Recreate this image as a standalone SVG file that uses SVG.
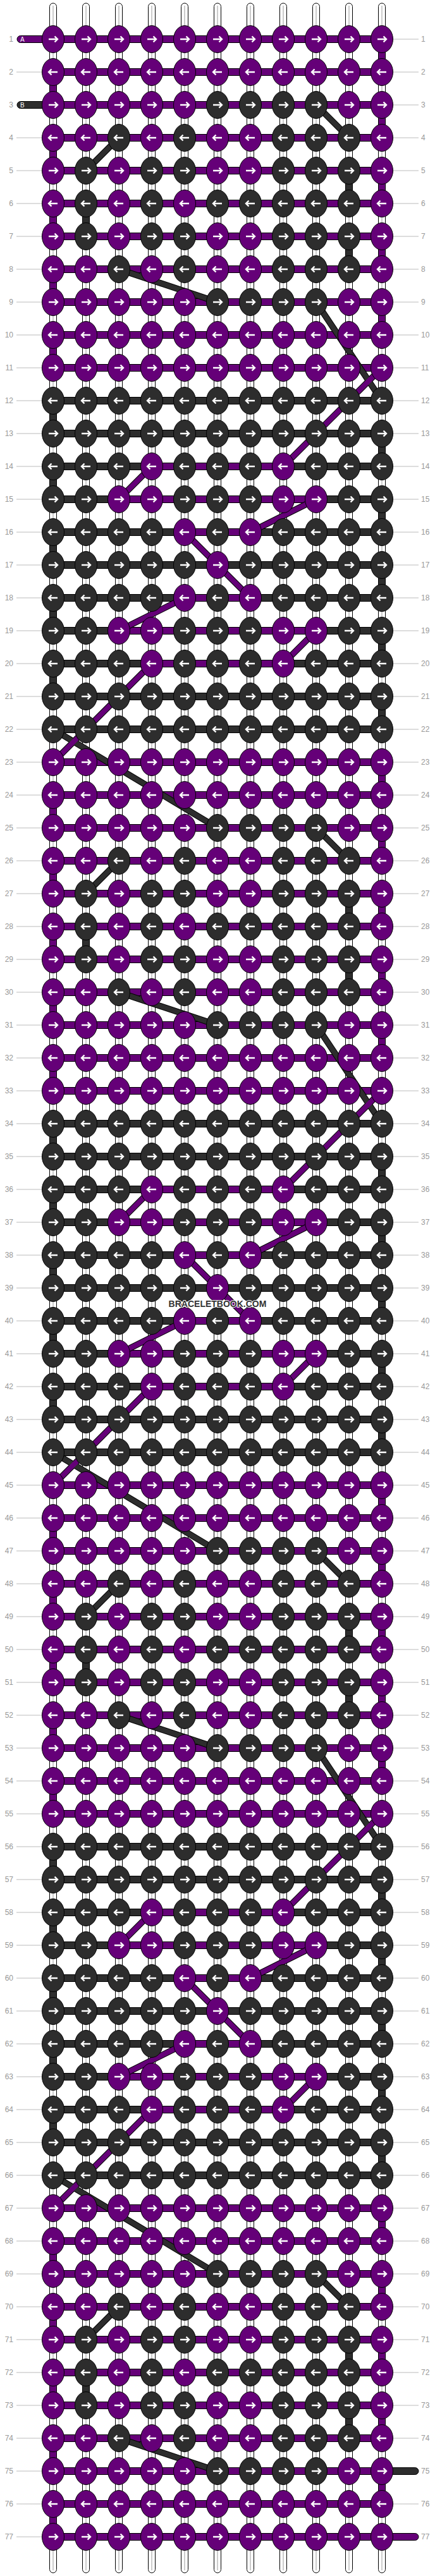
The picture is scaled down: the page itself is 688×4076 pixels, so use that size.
<svg xmlns="http://www.w3.org/2000/svg" width="688" height="4076" viewBox="0 0 688 4076">
<style>
.st{fill:#fff;stroke:#000;stroke-width:1}
.sc{fill:none;stroke:#999;stroke-width:1}
.P{fill:#650078;stroke:#000;stroke-width:1}
.D{fill:#2d2d2d;stroke:#000;stroke-width:1}
.ar{fill:none;stroke:#fff;stroke-width:2.4}
.do{fill:none;stroke:#000;stroke-width:10}
.dp{fill:none;stroke:#650078;stroke-width:8}
.dd{fill:none;stroke:#2d2d2d;stroke-width:8}
.n{font-family:"Liberation Sans",Arial,sans-serif;font-size:12px;fill:#999}
.gl{fill:none;stroke:#bbb;stroke-width:1}
.tb{font-family:"Liberation Sans",Arial,sans-serif;font-size:10px;fill:#fff}
.wm{font-family:"Liberation Sans",Arial,sans-serif;font-size:14px;font-weight:bold;fill:#333;stroke:#fff;stroke-width:2;paint-order:stroke}
</style>
<defs>
<g id="a"><ellipse class="P" rx="17.5" ry="21.5"/><path class="ar" d="M-7 0H7M2.5-4.5L7 0L2.5 4.5"/></g>
<g id="b"><ellipse class="P" rx="17.5" ry="21.5"/><path class="ar" d="M7 0H-7M-2.5-4.5L-7 0L-2.5 4.5"/></g>
<g id="c"><ellipse class="D" rx="17.5" ry="21.5"/><path class="ar" d="M-7 0H7M2.5-4.5L7 0L2.5 4.5"/></g>
<g id="d"><ellipse class="D" rx="17.5" ry="21.5"/><path class="ar" d="M7 0H-7M-2.5-4.5L-7 0L-2.5 4.5"/></g>
<rect id="vp" class="P" x="-5.5" y="0" width="11" height="52"/>
<rect id="vd" class="D" x="-5.5" y="0" width="11" height="52"/>
<rect id="hp" class="P" x="84" y="-5.5" width="520" height="11"/>
<rect id="hd" class="D" x="84" y="-5.5" width="520" height="11"/>
<g id="h14"><use href="#hd"/><rect class="P" x="240" y="-5.5" width="208" height="11"/></g>
<g id="h15"><use href="#hd"/><rect class="P" x="188" y="-5.5" width="312" height="11"/></g>
<g id="h16"><use href="#hd"/><rect class="P" x="292" y="-5.5" width="104" height="11"/></g>
<path id="pd" d="M604 582L448 738M240 738L188 790M500 790L396 842M292 842L344 894M344 894L396 946M292 946L188 998M500 998L448 1050M240 1050L84 1206M604 1726L448 1882M240 1882L188 1934M500 1934L396 1986M292 1986L344 2038M344 2038L396 2090M292 2090L188 2142M500 2142L448 2194M240 2194L84 2350M604 2870L448 3026M240 3026L188 3078M500 3078L396 3130M292 3130L344 3182M344 3182L396 3234M292 3234L188 3286M500 3286L448 3338M240 3338L84 3494"/>
<path id="dk" d="M500 166L552 218M188 218L136 270M188 426L344 478M500 478L604 634M84 1154L344 1310M500 1310L552 1362M188 1362L136 1414M188 1570L344 1622M500 1622L604 1778M84 2298L344 2454M500 2454L552 2506M188 2506L136 2558M188 2714L344 2766M500 2766L604 2922M84 3442L344 3598M500 3598L552 3650M188 3650L136 3702M188 3858L344 3910"/>
</defs>
<rect width="688" height="4076" fill="#fff"/>
<g id="strands">
<rect class="st" x="78.5" y="5" width="11" height="4066" rx="5.5"/>
<rect class="st" x="130.5" y="5" width="11" height="4066" rx="5.5"/>
<rect class="st" x="182.5" y="5" width="11" height="4066" rx="5.5"/>
<rect class="st" x="234.5" y="5" width="11" height="4066" rx="5.5"/>
<rect class="st" x="286.5" y="5" width="11" height="4066" rx="5.5"/>
<rect class="st" x="338.5" y="5" width="11" height="4066" rx="5.5"/>
<rect class="st" x="390.5" y="5" width="11" height="4066" rx="5.5"/>
<rect class="st" x="442.5" y="5" width="11" height="4066" rx="5.5"/>
<rect class="st" x="494.5" y="5" width="11" height="4066" rx="5.5"/>
<rect class="st" x="546.5" y="5" width="11" height="4066" rx="5.5"/>
<rect class="st" x="598.5" y="5" width="11" height="4066" rx="5.5"/>
<path class="sc" d="M84 9V4067M136 9V4067M188 9V4067M240 9V4067M292 9V4067M344 9V4067M396 9V4067M448 9V4067M500 9V4067M552 9V4067M604 9V4067"/>
</g>
<g id="labels-lines">
<path class="gl" d="M26 114H66M26 218H66M26 270H66M26 322H66M26 374H66M26 426H66M26 478H66M26 530H66M26 582H66M26 634H66M26 686H66M26 738H66M26 790H66M26 842H66M26 894H66M26 946H66M26 998H66M26 1050H66M26 1102H66M26 1154H66M26 1206H66M26 1258H66M26 1310H66M26 1362H66M26 1414H66M26 1466H66M26 1518H66M26 1570H66M26 1622H66M26 1674H66M26 1726H66M26 1778H66M26 1830H66M26 1882H66M26 1934H66M26 1986H66M26 2038H66M26 2090H66M26 2142H66M26 2194H66M26 2246H66M26 2298H66M26 2350H66M26 2402H66M26 2454H66M26 2506H66M26 2558H66M26 2610H66M26 2662H66M26 2714H66M26 2766H66M26 2818H66M26 2870H66M26 2922H66M26 2974H66M26 3026H66M26 3078H66M26 3130H66M26 3182H66M26 3234H66M26 3286H66M26 3338H66M26 3390H66M26 3442H66M26 3494H66M26 3546H66M26 3598H66M26 3650H66M26 3702H66M26 3754H66M26 3806H66M26 3858H66M26 3910H66M26 3962H66M26 4014H66"/>
<path class="gl" d="M622 62H662M622 114H662M622 166H662M622 218H662M622 270H662M622 322H662M622 374H662M622 426H662M622 478H662M622 530H662M622 582H662M622 634H662M622 686H662M622 738H662M622 790H662M622 842H662M622 894H662M622 946H662M622 998H662M622 1050H662M622 1102H662M622 1154H662M622 1206H662M622 1258H662M622 1310H662M622 1362H662M622 1414H662M622 1466H662M622 1518H662M622 1570H662M622 1622H662M622 1674H662M622 1726H662M622 1778H662M622 1830H662M622 1882H662M622 1934H662M622 1986H662M622 2038H662M622 2090H662M622 2142H662M622 2194H662M622 2246H662M622 2298H662M622 2350H662M622 2402H662M622 2454H662M622 2506H662M622 2558H662M622 2610H662M622 2662H662M622 2714H662M622 2766H662M622 2818H662M622 2870H662M622 2922H662M622 2974H662M622 3026H662M622 3078H662M622 3130H662M622 3182H662M622 3234H662M622 3286H662M622 3338H662M622 3390H662M622 3442H662M622 3494H662M622 3546H662M622 3598H662M622 3650H662M622 3702H662M622 3754H662M622 3806H662M622 3858H662M622 3962H662"/>
</g>
<g id="connectors">
<g id="verticals">
<use href="#vp" x="604" y="62"/><use href="#vp" x="84" y="114"/><use href="#vp" x="604" y="166"/><use href="#vp" x="84" y="218"/><use href="#vp" x="604" y="270"/><use href="#vp" x="84" y="322"/><use href="#vp" x="604" y="374"/><use href="#vp" x="84" y="426"/><use href="#vp" x="604" y="478"/><use href="#vp" x="84" y="530"/>
<use href="#vp" x="604" y="1206"/><use href="#vp" x="84" y="1258"/><use href="#vp" x="604" y="1310"/><use href="#vp" x="84" y="1362"/><use href="#vp" x="604" y="1414"/><use href="#vp" x="84" y="1466"/><use href="#vp" x="604" y="1518"/><use href="#vp" x="84" y="1570"/><use href="#vp" x="604" y="1622"/><use href="#vp" x="84" y="1674"/>
<use href="#vp" x="604" y="2350"/><use href="#vp" x="84" y="2402"/><use href="#vp" x="604" y="2454"/><use href="#vp" x="84" y="2506"/><use href="#vp" x="604" y="2558"/><use href="#vp" x="84" y="2610"/><use href="#vp" x="604" y="2662"/><use href="#vp" x="84" y="2714"/><use href="#vp" x="604" y="2766"/><use href="#vp" x="84" y="2818"/>
<use href="#vp" x="604" y="3494"/><use href="#vp" x="84" y="3546"/><use href="#vp" x="604" y="3598"/><use href="#vp" x="84" y="3650"/><use href="#vp" x="604" y="3702"/><use href="#vp" x="84" y="3754"/><use href="#vp" x="604" y="3806"/><use href="#vp" x="84" y="3858"/><use href="#vp" x="604" y="3910"/><use href="#vp" x="84" y="3962"/>
<use href="#vd" x="552" y="270"/><use href="#vd" x="136" y="322"/><use href="#vd" x="552" y="374"/>
<use href="#vd" x="84" y="634"/><use href="#vd" x="604" y="686"/><use href="#vd" x="84" y="738"/><use href="#vd" x="604" y="790"/><use href="#vd" x="84" y="842"/><use href="#vd" x="604" y="894"/><use href="#vd" x="84" y="946"/><use href="#vd" x="604" y="998"/><use href="#vd" x="84" y="1050"/><use href="#vd" x="604" y="1102"/>
<use href="#vd" x="552" y="1414"/><use href="#vd" x="136" y="1466"/><use href="#vd" x="552" y="1518"/>
<use href="#vd" x="84" y="1778"/><use href="#vd" x="604" y="1830"/><use href="#vd" x="84" y="1882"/><use href="#vd" x="604" y="1934"/><use href="#vd" x="84" y="1986"/><use href="#vd" x="604" y="2038"/><use href="#vd" x="84" y="2090"/><use href="#vd" x="604" y="2142"/><use href="#vd" x="84" y="2194"/><use href="#vd" x="604" y="2246"/>
<use href="#vd" x="552" y="2558"/><use href="#vd" x="136" y="2610"/><use href="#vd" x="552" y="2662"/>
<use href="#vd" x="84" y="2922"/><use href="#vd" x="604" y="2974"/><use href="#vd" x="84" y="3026"/><use href="#vd" x="604" y="3078"/><use href="#vd" x="84" y="3130"/><use href="#vd" x="604" y="3182"/><use href="#vd" x="84" y="3234"/><use href="#vd" x="604" y="3286"/><use href="#vd" x="84" y="3338"/><use href="#vd" x="604" y="3390"/>
<use href="#vd" x="552" y="3702"/><use href="#vd" x="136" y="3754"/><use href="#vd" x="552" y="3806"/>
</g>
<g id="tabs">
<rect class="P" x="27" y="56.5" width="50" height="11" rx="5.5"/>
<rect class="D" x="27" y="160.5" width="50" height="11" rx="5.5"/>
<rect class="D" x="590" y="3904.5" width="72" height="11" rx="5.5"/>
<rect class="P" x="590" y="4008.5" width="72" height="11" rx="5.5"/>
<text class="tb" x="32" y="66">A</text>
<text class="tb" x="32" y="170">B</text>
</g>
<g id="horizontals">
<use href="#hp" y="62"/><use href="#hp" y="114"/><use href="#hp" y="166"/><use href="#hp" y="218"/><use href="#hp" y="270"/><use href="#hp" y="322"/><use href="#hp" y="374"/><use href="#hp" y="426"/><use href="#hp" y="478"/><use href="#hp" y="530"/><use href="#hp" y="582"/>
<use href="#hd" y="634"/><use href="#hd" y="686"/><use href="#h14" y="738"/><use href="#h15" y="790"/><use href="#h16" y="842"/><use href="#hd" y="894"/><use href="#h16" y="946"/><use href="#h15" y="998"/><use href="#h14" y="1050"/><use href="#hd" y="1102"/><use href="#hd" y="1154"/>
<use href="#hp" y="1206"/><use href="#hp" y="1258"/><use href="#hp" y="1310"/><use href="#hp" y="1362"/><use href="#hp" y="1414"/><use href="#hp" y="1466"/><use href="#hp" y="1518"/><use href="#hp" y="1570"/><use href="#hp" y="1622"/><use href="#hp" y="1674"/><use href="#hp" y="1726"/>
<use href="#hd" y="1778"/><use href="#hd" y="1830"/><use href="#h14" y="1882"/><use href="#h15" y="1934"/><use href="#h16" y="1986"/><use href="#hd" y="2038"/><use href="#h16" y="2090"/><use href="#h15" y="2142"/><use href="#h14" y="2194"/><use href="#hd" y="2246"/><use href="#hd" y="2298"/>
<use href="#hp" y="2350"/><use href="#hp" y="2402"/><use href="#hp" y="2454"/><use href="#hp" y="2506"/><use href="#hp" y="2558"/><use href="#hp" y="2610"/><use href="#hp" y="2662"/><use href="#hp" y="2714"/><use href="#hp" y="2766"/><use href="#hp" y="2818"/><use href="#hp" y="2870"/>
<use href="#hd" y="2922"/><use href="#hd" y="2974"/><use href="#h14" y="3026"/><use href="#h15" y="3078"/><use href="#h16" y="3130"/><use href="#hd" y="3182"/><use href="#h16" y="3234"/><use href="#h15" y="3286"/><use href="#h14" y="3338"/><use href="#hd" y="3390"/><use href="#hd" y="3442"/>
<use href="#hp" y="3494"/><use href="#hp" y="3546"/><use href="#hp" y="3598"/><use href="#hp" y="3650"/><use href="#hp" y="3702"/><use href="#hp" y="3754"/><use href="#hp" y="3806"/><use href="#hp" y="3858"/><use href="#hp" y="3910"/><use href="#hp" y="3962"/><use href="#hp" y="4014"/>
</g>
<g id="diagonals">
<use href="#dk" class="do"/><use href="#pd" class="do"/>
<use href="#dk" class="dd"/><use href="#pd" class="dp"/>
</g>
</g>
<g id="knots">
<g id="r1" transform="translate(0,62)"><use href="#a" x="84"/><use href="#a" x="136"/><use href="#a" x="188"/><use href="#a" x="240"/><use href="#a" x="292"/><use href="#a" x="344"/><use href="#a" x="396"/><use href="#a" x="448"/><use href="#a" x="500"/><use href="#a" x="552"/><use href="#a" x="604"/></g>
<g id="r2" transform="translate(0,114)"><use href="#b" x="84"/><use href="#b" x="136"/><use href="#b" x="188"/><use href="#b" x="240"/><use href="#b" x="292"/><use href="#b" x="344"/><use href="#b" x="396"/><use href="#b" x="448"/><use href="#b" x="500"/><use href="#b" x="552"/><use href="#b" x="604"/></g>
<g id="r3" transform="translate(0,166)"><use href="#a" x="84"/><use href="#a" x="136"/><use href="#a" x="188"/><use href="#a" x="240"/><use href="#a" x="292"/><use href="#c" x="344"/><use href="#c" x="396"/><use href="#c" x="448"/><use href="#c" x="500"/><use href="#a" x="552"/><use href="#a" x="604"/></g>
<g id="r4" transform="translate(0,218)"><use href="#b" x="84"/><use href="#b" x="136"/><use href="#d" x="188"/><use href="#b" x="240"/><use href="#d" x="292"/><use href="#b" x="344"/><use href="#b" x="396"/><use href="#d" x="448"/><use href="#d" x="500"/><use href="#d" x="552"/><use href="#b" x="604"/></g>
<g id="r5" transform="translate(0,270)"><use href="#a" x="84"/><use href="#c" x="136"/><use href="#a" x="188"/><use href="#c" x="240"/><use href="#c" x="292"/><use href="#a" x="344"/><use href="#a" x="396"/><use href="#c" x="448"/><use href="#c" x="500"/><use href="#c" x="552"/><use href="#a" x="604"/></g>
<g id="r6" transform="translate(0,322)"><use href="#b" x="84"/><use href="#d" x="136"/><use href="#b" x="188"/><use href="#d" x="240"/><use href="#b" x="292"/><use href="#d" x="344"/><use href="#d" x="396"/><use href="#d" x="448"/><use href="#d" x="500"/><use href="#d" x="552"/><use href="#b" x="604"/></g>
<g id="r7" transform="translate(0,374)"><use href="#a" x="84"/><use href="#c" x="136"/><use href="#a" x="188"/><use href="#c" x="240"/><use href="#c" x="292"/><use href="#a" x="344"/><use href="#a" x="396"/><use href="#c" x="448"/><use href="#c" x="500"/><use href="#c" x="552"/><use href="#a" x="604"/></g>
<g id="r8" transform="translate(0,426)"><use href="#b" x="84"/><use href="#b" x="136"/><use href="#d" x="188"/><use href="#b" x="240"/><use href="#d" x="292"/><use href="#b" x="344"/><use href="#b" x="396"/><use href="#d" x="448"/><use href="#d" x="500"/><use href="#d" x="552"/><use href="#b" x="604"/></g>
<g id="r9" transform="translate(0,478)"><use href="#a" x="84"/><use href="#a" x="136"/><use href="#a" x="188"/><use href="#a" x="240"/><use href="#a" x="292"/><use href="#c" x="344"/><use href="#c" x="396"/><use href="#c" x="448"/><use href="#c" x="500"/><use href="#a" x="552"/><use href="#a" x="604"/></g>
<g id="r10" transform="translate(0,530)"><use href="#b" x="84"/><use href="#b" x="136"/><use href="#b" x="188"/><use href="#b" x="240"/><use href="#b" x="292"/><use href="#b" x="344"/><use href="#b" x="396"/><use href="#b" x="448"/><use href="#b" x="500"/><use href="#b" x="552"/><use href="#b" x="604"/></g>
<g id="r11" transform="translate(0,582)"><use href="#a" x="84"/><use href="#a" x="136"/><use href="#a" x="188"/><use href="#a" x="240"/><use href="#a" x="292"/><use href="#a" x="344"/><use href="#a" x="396"/><use href="#a" x="448"/><use href="#a" x="500"/><use href="#a" x="552"/><use href="#a" x="604"/></g>
<g id="r12" transform="translate(0,634)"><use href="#d" x="84"/><use href="#d" x="136"/><use href="#d" x="188"/><use href="#d" x="240"/><use href="#d" x="292"/><use href="#d" x="344"/><use href="#d" x="396"/><use href="#d" x="448"/><use href="#d" x="500"/><use href="#d" x="552"/><use href="#d" x="604"/></g>
<g id="r13" transform="translate(0,686)"><use href="#c" x="84"/><use href="#c" x="136"/><use href="#c" x="188"/><use href="#c" x="240"/><use href="#c" x="292"/><use href="#c" x="344"/><use href="#c" x="396"/><use href="#c" x="448"/><use href="#c" x="500"/><use href="#c" x="552"/><use href="#c" x="604"/></g>
<g id="r14" transform="translate(0,738)"><use href="#d" x="84"/><use href="#d" x="136"/><use href="#d" x="188"/><use href="#b" x="240"/><use href="#d" x="292"/><use href="#d" x="344"/><use href="#d" x="396"/><use href="#b" x="448"/><use href="#d" x="500"/><use href="#d" x="552"/><use href="#d" x="604"/></g>
<g id="r15" transform="translate(0,790)"><use href="#c" x="84"/><use href="#c" x="136"/><use href="#a" x="188"/><use href="#a" x="240"/><use href="#c" x="292"/><use href="#c" x="344"/><use href="#c" x="396"/><use href="#a" x="448"/><use href="#a" x="500"/><use href="#c" x="552"/><use href="#c" x="604"/></g>
<g id="r16" transform="translate(0,842)"><use href="#d" x="84"/><use href="#d" x="136"/><use href="#d" x="188"/><use href="#d" x="240"/><use href="#b" x="292"/><use href="#d" x="344"/><use href="#b" x="396"/><use href="#d" x="448"/><use href="#d" x="500"/><use href="#d" x="552"/><use href="#d" x="604"/></g>
<g id="r17" transform="translate(0,894)"><use href="#c" x="84"/><use href="#c" x="136"/><use href="#c" x="188"/><use href="#c" x="240"/><use href="#c" x="292"/><use href="#a" x="344"/><use href="#c" x="396"/><use href="#c" x="448"/><use href="#c" x="500"/><use href="#c" x="552"/><use href="#c" x="604"/></g>
<g id="r18" transform="translate(0,946)"><use href="#d" x="84"/><use href="#d" x="136"/><use href="#d" x="188"/><use href="#d" x="240"/><use href="#b" x="292"/><use href="#d" x="344"/><use href="#b" x="396"/><use href="#d" x="448"/><use href="#d" x="500"/><use href="#d" x="552"/><use href="#d" x="604"/></g>
<g id="r19" transform="translate(0,998)"><use href="#c" x="84"/><use href="#c" x="136"/><use href="#a" x="188"/><use href="#a" x="240"/><use href="#c" x="292"/><use href="#c" x="344"/><use href="#c" x="396"/><use href="#a" x="448"/><use href="#a" x="500"/><use href="#c" x="552"/><use href="#c" x="604"/></g>
<g id="r20" transform="translate(0,1050)"><use href="#d" x="84"/><use href="#d" x="136"/><use href="#d" x="188"/><use href="#b" x="240"/><use href="#d" x="292"/><use href="#d" x="344"/><use href="#d" x="396"/><use href="#b" x="448"/><use href="#d" x="500"/><use href="#d" x="552"/><use href="#d" x="604"/></g>
<g id="r21" transform="translate(0,1102)"><use href="#c" x="84"/><use href="#c" x="136"/><use href="#c" x="188"/><use href="#c" x="240"/><use href="#c" x="292"/><use href="#c" x="344"/><use href="#c" x="396"/><use href="#c" x="448"/><use href="#c" x="500"/><use href="#c" x="552"/><use href="#c" x="604"/></g>
<g id="r22" transform="translate(0,1154)"><use href="#d" x="84"/><use href="#d" x="136"/><use href="#d" x="188"/><use href="#d" x="240"/><use href="#d" x="292"/><use href="#d" x="344"/><use href="#d" x="396"/><use href="#d" x="448"/><use href="#d" x="500"/><use href="#d" x="552"/><use href="#d" x="604"/></g>
<g id="r23" transform="translate(0,1206)"><use href="#a" x="84"/><use href="#a" x="136"/><use href="#a" x="188"/><use href="#a" x="240"/><use href="#a" x="292"/><use href="#a" x="344"/><use href="#a" x="396"/><use href="#a" x="448"/><use href="#a" x="500"/><use href="#a" x="552"/><use href="#a" x="604"/></g>
<g id="r24" transform="translate(0,1258)"><use href="#b" x="84"/><use href="#b" x="136"/><use href="#b" x="188"/><use href="#b" x="240"/><use href="#b" x="292"/><use href="#b" x="344"/><use href="#b" x="396"/><use href="#b" x="448"/><use href="#b" x="500"/><use href="#b" x="552"/><use href="#b" x="604"/></g>
<g id="r25" transform="translate(0,1310)"><use href="#a" x="84"/><use href="#a" x="136"/><use href="#a" x="188"/><use href="#a" x="240"/><use href="#a" x="292"/><use href="#c" x="344"/><use href="#c" x="396"/><use href="#c" x="448"/><use href="#c" x="500"/><use href="#a" x="552"/><use href="#a" x="604"/></g>
<g id="r26" transform="translate(0,1362)"><use href="#b" x="84"/><use href="#b" x="136"/><use href="#d" x="188"/><use href="#b" x="240"/><use href="#d" x="292"/><use href="#b" x="344"/><use href="#b" x="396"/><use href="#d" x="448"/><use href="#d" x="500"/><use href="#d" x="552"/><use href="#b" x="604"/></g>
<g id="r27" transform="translate(0,1414)"><use href="#a" x="84"/><use href="#c" x="136"/><use href="#a" x="188"/><use href="#c" x="240"/><use href="#c" x="292"/><use href="#a" x="344"/><use href="#a" x="396"/><use href="#c" x="448"/><use href="#c" x="500"/><use href="#c" x="552"/><use href="#a" x="604"/></g>
<g id="r28" transform="translate(0,1466)"><use href="#b" x="84"/><use href="#d" x="136"/><use href="#b" x="188"/><use href="#d" x="240"/><use href="#b" x="292"/><use href="#d" x="344"/><use href="#d" x="396"/><use href="#d" x="448"/><use href="#d" x="500"/><use href="#d" x="552"/><use href="#b" x="604"/></g>
<g id="r29" transform="translate(0,1518)"><use href="#a" x="84"/><use href="#c" x="136"/><use href="#a" x="188"/><use href="#c" x="240"/><use href="#c" x="292"/><use href="#a" x="344"/><use href="#a" x="396"/><use href="#c" x="448"/><use href="#c" x="500"/><use href="#c" x="552"/><use href="#a" x="604"/></g>
<g id="r30" transform="translate(0,1570)"><use href="#b" x="84"/><use href="#b" x="136"/><use href="#d" x="188"/><use href="#b" x="240"/><use href="#d" x="292"/><use href="#b" x="344"/><use href="#b" x="396"/><use href="#d" x="448"/><use href="#d" x="500"/><use href="#d" x="552"/><use href="#b" x="604"/></g>
<g id="r31" transform="translate(0,1622)"><use href="#a" x="84"/><use href="#a" x="136"/><use href="#a" x="188"/><use href="#a" x="240"/><use href="#a" x="292"/><use href="#c" x="344"/><use href="#c" x="396"/><use href="#c" x="448"/><use href="#c" x="500"/><use href="#a" x="552"/><use href="#a" x="604"/></g>
<g id="r32" transform="translate(0,1674)"><use href="#b" x="84"/><use href="#b" x="136"/><use href="#b" x="188"/><use href="#b" x="240"/><use href="#b" x="292"/><use href="#b" x="344"/><use href="#b" x="396"/><use href="#b" x="448"/><use href="#b" x="500"/><use href="#b" x="552"/><use href="#b" x="604"/></g>
<g id="r33" transform="translate(0,1726)"><use href="#a" x="84"/><use href="#a" x="136"/><use href="#a" x="188"/><use href="#a" x="240"/><use href="#a" x="292"/><use href="#a" x="344"/><use href="#a" x="396"/><use href="#a" x="448"/><use href="#a" x="500"/><use href="#a" x="552"/><use href="#a" x="604"/></g>
<g id="r34" transform="translate(0,1778)"><use href="#d" x="84"/><use href="#d" x="136"/><use href="#d" x="188"/><use href="#d" x="240"/><use href="#d" x="292"/><use href="#d" x="344"/><use href="#d" x="396"/><use href="#d" x="448"/><use href="#d" x="500"/><use href="#d" x="552"/><use href="#d" x="604"/></g>
<g id="r35" transform="translate(0,1830)"><use href="#c" x="84"/><use href="#c" x="136"/><use href="#c" x="188"/><use href="#c" x="240"/><use href="#c" x="292"/><use href="#c" x="344"/><use href="#c" x="396"/><use href="#c" x="448"/><use href="#c" x="500"/><use href="#c" x="552"/><use href="#c" x="604"/></g>
<g id="r36" transform="translate(0,1882)"><use href="#d" x="84"/><use href="#d" x="136"/><use href="#d" x="188"/><use href="#b" x="240"/><use href="#d" x="292"/><use href="#d" x="344"/><use href="#d" x="396"/><use href="#b" x="448"/><use href="#d" x="500"/><use href="#d" x="552"/><use href="#d" x="604"/></g>
<g id="r37" transform="translate(0,1934)"><use href="#c" x="84"/><use href="#c" x="136"/><use href="#a" x="188"/><use href="#a" x="240"/><use href="#c" x="292"/><use href="#c" x="344"/><use href="#c" x="396"/><use href="#a" x="448"/><use href="#a" x="500"/><use href="#c" x="552"/><use href="#c" x="604"/></g>
<g id="r38" transform="translate(0,1986)"><use href="#d" x="84"/><use href="#d" x="136"/><use href="#d" x="188"/><use href="#d" x="240"/><use href="#b" x="292"/><use href="#d" x="344"/><use href="#b" x="396"/><use href="#d" x="448"/><use href="#d" x="500"/><use href="#d" x="552"/><use href="#d" x="604"/></g>
<g id="r39" transform="translate(0,2038)"><use href="#c" x="84"/><use href="#c" x="136"/><use href="#c" x="188"/><use href="#c" x="240"/><use href="#c" x="292"/><use href="#a" x="344"/><use href="#c" x="396"/><use href="#c" x="448"/><use href="#c" x="500"/><use href="#c" x="552"/><use href="#c" x="604"/></g>
<g id="r40" transform="translate(0,2090)"><use href="#d" x="84"/><use href="#d" x="136"/><use href="#d" x="188"/><use href="#d" x="240"/><use href="#b" x="292"/><use href="#d" x="344"/><use href="#b" x="396"/><use href="#d" x="448"/><use href="#d" x="500"/><use href="#d" x="552"/><use href="#d" x="604"/></g>
<g id="r41" transform="translate(0,2142)"><use href="#c" x="84"/><use href="#c" x="136"/><use href="#a" x="188"/><use href="#a" x="240"/><use href="#c" x="292"/><use href="#c" x="344"/><use href="#c" x="396"/><use href="#a" x="448"/><use href="#a" x="500"/><use href="#c" x="552"/><use href="#c" x="604"/></g>
<g id="r42" transform="translate(0,2194)"><use href="#d" x="84"/><use href="#d" x="136"/><use href="#d" x="188"/><use href="#b" x="240"/><use href="#d" x="292"/><use href="#d" x="344"/><use href="#d" x="396"/><use href="#b" x="448"/><use href="#d" x="500"/><use href="#d" x="552"/><use href="#d" x="604"/></g>
<g id="r43" transform="translate(0,2246)"><use href="#c" x="84"/><use href="#c" x="136"/><use href="#c" x="188"/><use href="#c" x="240"/><use href="#c" x="292"/><use href="#c" x="344"/><use href="#c" x="396"/><use href="#c" x="448"/><use href="#c" x="500"/><use href="#c" x="552"/><use href="#c" x="604"/></g>
<g id="r44" transform="translate(0,2298)"><use href="#d" x="84"/><use href="#d" x="136"/><use href="#d" x="188"/><use href="#d" x="240"/><use href="#d" x="292"/><use href="#d" x="344"/><use href="#d" x="396"/><use href="#d" x="448"/><use href="#d" x="500"/><use href="#d" x="552"/><use href="#d" x="604"/></g>
<g id="r45" transform="translate(0,2350)"><use href="#a" x="84"/><use href="#a" x="136"/><use href="#a" x="188"/><use href="#a" x="240"/><use href="#a" x="292"/><use href="#a" x="344"/><use href="#a" x="396"/><use href="#a" x="448"/><use href="#a" x="500"/><use href="#a" x="552"/><use href="#a" x="604"/></g>
<g id="r46" transform="translate(0,2402)"><use href="#b" x="84"/><use href="#b" x="136"/><use href="#b" x="188"/><use href="#b" x="240"/><use href="#b" x="292"/><use href="#b" x="344"/><use href="#b" x="396"/><use href="#b" x="448"/><use href="#b" x="500"/><use href="#b" x="552"/><use href="#b" x="604"/></g>
<g id="r47" transform="translate(0,2454)"><use href="#a" x="84"/><use href="#a" x="136"/><use href="#a" x="188"/><use href="#a" x="240"/><use href="#a" x="292"/><use href="#c" x="344"/><use href="#c" x="396"/><use href="#c" x="448"/><use href="#c" x="500"/><use href="#a" x="552"/><use href="#a" x="604"/></g>
<g id="r48" transform="translate(0,2506)"><use href="#b" x="84"/><use href="#b" x="136"/><use href="#d" x="188"/><use href="#b" x="240"/><use href="#d" x="292"/><use href="#b" x="344"/><use href="#b" x="396"/><use href="#d" x="448"/><use href="#d" x="500"/><use href="#d" x="552"/><use href="#b" x="604"/></g>
<g id="r49" transform="translate(0,2558)"><use href="#a" x="84"/><use href="#c" x="136"/><use href="#a" x="188"/><use href="#c" x="240"/><use href="#c" x="292"/><use href="#a" x="344"/><use href="#a" x="396"/><use href="#c" x="448"/><use href="#c" x="500"/><use href="#c" x="552"/><use href="#a" x="604"/></g>
<g id="r50" transform="translate(0,2610)"><use href="#b" x="84"/><use href="#d" x="136"/><use href="#b" x="188"/><use href="#d" x="240"/><use href="#b" x="292"/><use href="#d" x="344"/><use href="#d" x="396"/><use href="#d" x="448"/><use href="#d" x="500"/><use href="#d" x="552"/><use href="#b" x="604"/></g>
<g id="r51" transform="translate(0,2662)"><use href="#a" x="84"/><use href="#c" x="136"/><use href="#a" x="188"/><use href="#c" x="240"/><use href="#c" x="292"/><use href="#a" x="344"/><use href="#a" x="396"/><use href="#c" x="448"/><use href="#c" x="500"/><use href="#c" x="552"/><use href="#a" x="604"/></g>
<g id="r52" transform="translate(0,2714)"><use href="#b" x="84"/><use href="#b" x="136"/><use href="#d" x="188"/><use href="#b" x="240"/><use href="#d" x="292"/><use href="#b" x="344"/><use href="#b" x="396"/><use href="#d" x="448"/><use href="#d" x="500"/><use href="#d" x="552"/><use href="#b" x="604"/></g>
<g id="r53" transform="translate(0,2766)"><use href="#a" x="84"/><use href="#a" x="136"/><use href="#a" x="188"/><use href="#a" x="240"/><use href="#a" x="292"/><use href="#c" x="344"/><use href="#c" x="396"/><use href="#c" x="448"/><use href="#c" x="500"/><use href="#a" x="552"/><use href="#a" x="604"/></g>
<g id="r54" transform="translate(0,2818)"><use href="#b" x="84"/><use href="#b" x="136"/><use href="#b" x="188"/><use href="#b" x="240"/><use href="#b" x="292"/><use href="#b" x="344"/><use href="#b" x="396"/><use href="#b" x="448"/><use href="#b" x="500"/><use href="#b" x="552"/><use href="#b" x="604"/></g>
<g id="r55" transform="translate(0,2870)"><use href="#a" x="84"/><use href="#a" x="136"/><use href="#a" x="188"/><use href="#a" x="240"/><use href="#a" x="292"/><use href="#a" x="344"/><use href="#a" x="396"/><use href="#a" x="448"/><use href="#a" x="500"/><use href="#a" x="552"/><use href="#a" x="604"/></g>
<g id="r56" transform="translate(0,2922)"><use href="#d" x="84"/><use href="#d" x="136"/><use href="#d" x="188"/><use href="#d" x="240"/><use href="#d" x="292"/><use href="#d" x="344"/><use href="#d" x="396"/><use href="#d" x="448"/><use href="#d" x="500"/><use href="#d" x="552"/><use href="#d" x="604"/></g>
<g id="r57" transform="translate(0,2974)"><use href="#c" x="84"/><use href="#c" x="136"/><use href="#c" x="188"/><use href="#c" x="240"/><use href="#c" x="292"/><use href="#c" x="344"/><use href="#c" x="396"/><use href="#c" x="448"/><use href="#c" x="500"/><use href="#c" x="552"/><use href="#c" x="604"/></g>
<g id="r58" transform="translate(0,3026)"><use href="#d" x="84"/><use href="#d" x="136"/><use href="#d" x="188"/><use href="#b" x="240"/><use href="#d" x="292"/><use href="#d" x="344"/><use href="#d" x="396"/><use href="#b" x="448"/><use href="#d" x="500"/><use href="#d" x="552"/><use href="#d" x="604"/></g>
<g id="r59" transform="translate(0,3078)"><use href="#c" x="84"/><use href="#c" x="136"/><use href="#a" x="188"/><use href="#a" x="240"/><use href="#c" x="292"/><use href="#c" x="344"/><use href="#c" x="396"/><use href="#a" x="448"/><use href="#a" x="500"/><use href="#c" x="552"/><use href="#c" x="604"/></g>
<g id="r60" transform="translate(0,3130)"><use href="#d" x="84"/><use href="#d" x="136"/><use href="#d" x="188"/><use href="#d" x="240"/><use href="#b" x="292"/><use href="#d" x="344"/><use href="#b" x="396"/><use href="#d" x="448"/><use href="#d" x="500"/><use href="#d" x="552"/><use href="#d" x="604"/></g>
<g id="r61" transform="translate(0,3182)"><use href="#c" x="84"/><use href="#c" x="136"/><use href="#c" x="188"/><use href="#c" x="240"/><use href="#c" x="292"/><use href="#a" x="344"/><use href="#c" x="396"/><use href="#c" x="448"/><use href="#c" x="500"/><use href="#c" x="552"/><use href="#c" x="604"/></g>
<g id="r62" transform="translate(0,3234)"><use href="#d" x="84"/><use href="#d" x="136"/><use href="#d" x="188"/><use href="#d" x="240"/><use href="#b" x="292"/><use href="#d" x="344"/><use href="#b" x="396"/><use href="#d" x="448"/><use href="#d" x="500"/><use href="#d" x="552"/><use href="#d" x="604"/></g>
<g id="r63" transform="translate(0,3286)"><use href="#c" x="84"/><use href="#c" x="136"/><use href="#a" x="188"/><use href="#a" x="240"/><use href="#c" x="292"/><use href="#c" x="344"/><use href="#c" x="396"/><use href="#a" x="448"/><use href="#a" x="500"/><use href="#c" x="552"/><use href="#c" x="604"/></g>
<g id="r64" transform="translate(0,3338)"><use href="#d" x="84"/><use href="#d" x="136"/><use href="#d" x="188"/><use href="#b" x="240"/><use href="#d" x="292"/><use href="#d" x="344"/><use href="#d" x="396"/><use href="#b" x="448"/><use href="#d" x="500"/><use href="#d" x="552"/><use href="#d" x="604"/></g>
<g id="r65" transform="translate(0,3390)"><use href="#c" x="84"/><use href="#c" x="136"/><use href="#c" x="188"/><use href="#c" x="240"/><use href="#c" x="292"/><use href="#c" x="344"/><use href="#c" x="396"/><use href="#c" x="448"/><use href="#c" x="500"/><use href="#c" x="552"/><use href="#c" x="604"/></g>
<g id="r66" transform="translate(0,3442)"><use href="#d" x="84"/><use href="#d" x="136"/><use href="#d" x="188"/><use href="#d" x="240"/><use href="#d" x="292"/><use href="#d" x="344"/><use href="#d" x="396"/><use href="#d" x="448"/><use href="#d" x="500"/><use href="#d" x="552"/><use href="#d" x="604"/></g>
<g id="r67" transform="translate(0,3494)"><use href="#a" x="84"/><use href="#a" x="136"/><use href="#a" x="188"/><use href="#a" x="240"/><use href="#a" x="292"/><use href="#a" x="344"/><use href="#a" x="396"/><use href="#a" x="448"/><use href="#a" x="500"/><use href="#a" x="552"/><use href="#a" x="604"/></g>
<g id="r68" transform="translate(0,3546)"><use href="#b" x="84"/><use href="#b" x="136"/><use href="#b" x="188"/><use href="#b" x="240"/><use href="#b" x="292"/><use href="#b" x="344"/><use href="#b" x="396"/><use href="#b" x="448"/><use href="#b" x="500"/><use href="#b" x="552"/><use href="#b" x="604"/></g>
<g id="r69" transform="translate(0,3598)"><use href="#a" x="84"/><use href="#a" x="136"/><use href="#a" x="188"/><use href="#a" x="240"/><use href="#a" x="292"/><use href="#c" x="344"/><use href="#c" x="396"/><use href="#c" x="448"/><use href="#c" x="500"/><use href="#a" x="552"/><use href="#a" x="604"/></g>
<g id="r70" transform="translate(0,3650)"><use href="#b" x="84"/><use href="#b" x="136"/><use href="#d" x="188"/><use href="#b" x="240"/><use href="#d" x="292"/><use href="#b" x="344"/><use href="#b" x="396"/><use href="#d" x="448"/><use href="#d" x="500"/><use href="#d" x="552"/><use href="#b" x="604"/></g>
<g id="r71" transform="translate(0,3702)"><use href="#a" x="84"/><use href="#c" x="136"/><use href="#a" x="188"/><use href="#c" x="240"/><use href="#c" x="292"/><use href="#a" x="344"/><use href="#a" x="396"/><use href="#c" x="448"/><use href="#c" x="500"/><use href="#c" x="552"/><use href="#a" x="604"/></g>
<g id="r72" transform="translate(0,3754)"><use href="#b" x="84"/><use href="#d" x="136"/><use href="#b" x="188"/><use href="#d" x="240"/><use href="#b" x="292"/><use href="#d" x="344"/><use href="#d" x="396"/><use href="#d" x="448"/><use href="#d" x="500"/><use href="#d" x="552"/><use href="#b" x="604"/></g>
<g id="r73" transform="translate(0,3806)"><use href="#a" x="84"/><use href="#c" x="136"/><use href="#a" x="188"/><use href="#c" x="240"/><use href="#c" x="292"/><use href="#a" x="344"/><use href="#a" x="396"/><use href="#c" x="448"/><use href="#c" x="500"/><use href="#c" x="552"/><use href="#a" x="604"/></g>
<g id="r74" transform="translate(0,3858)"><use href="#b" x="84"/><use href="#b" x="136"/><use href="#d" x="188"/><use href="#b" x="240"/><use href="#d" x="292"/><use href="#b" x="344"/><use href="#b" x="396"/><use href="#d" x="448"/><use href="#d" x="500"/><use href="#d" x="552"/><use href="#b" x="604"/></g>
<g id="r75" transform="translate(0,3910)"><use href="#a" x="84"/><use href="#a" x="136"/><use href="#a" x="188"/><use href="#a" x="240"/><use href="#a" x="292"/><use href="#c" x="344"/><use href="#c" x="396"/><use href="#c" x="448"/><use href="#c" x="500"/><use href="#a" x="552"/><use href="#a" x="604"/></g>
<g id="r76" transform="translate(0,3962)"><use href="#b" x="84"/><use href="#b" x="136"/><use href="#b" x="188"/><use href="#b" x="240"/><use href="#b" x="292"/><use href="#b" x="344"/><use href="#b" x="396"/><use href="#b" x="448"/><use href="#b" x="500"/><use href="#b" x="552"/><use href="#b" x="604"/></g>
<g id="r77" transform="translate(0,4014)"><use href="#a" x="84"/><use href="#a" x="136"/><use href="#a" x="188"/><use href="#a" x="240"/><use href="#a" x="292"/><use href="#a" x="344"/><use href="#a" x="396"/><use href="#a" x="448"/><use href="#a" x="500"/><use href="#a" x="552"/><use href="#a" x="604"/></g>
</g>
<g id="row-numbers" class="n">
<g text-anchor="end">
<text x="21" y="66">1</text><text x="21" y="118">2</text><text x="21" y="170">3</text><text x="21" y="222">4</text><text x="21" y="274">5</text><text x="21" y="326">6</text><text x="21" y="378">7</text><text x="21" y="430">8</text><text x="21" y="482">9</text><text x="21" y="534">10</text><text x="21" y="586">11</text><text x="21" y="638">12</text><text x="21" y="690">13</text><text x="21" y="742">14</text><text x="21" y="794">15</text><text x="21" y="846">16</text><text x="21" y="898">17</text><text x="21" y="950">18</text><text x="21" y="1002">19</text><text x="21" y="1054">20</text><text x="21" y="1106">21</text><text x="21" y="1158">22</text><text x="21" y="1210">23</text><text x="21" y="1262">24</text><text x="21" y="1314">25</text><text x="21" y="1366">26</text><text x="21" y="1418">27</text><text x="21" y="1470">28</text><text x="21" y="1522">29</text><text x="21" y="1574">30</text><text x="21" y="1626">31</text><text x="21" y="1678">32</text><text x="21" y="1730">33</text><text x="21" y="1782">34</text><text x="21" y="1834">35</text><text x="21" y="1886">36</text><text x="21" y="1938">37</text><text x="21" y="1990">38</text><text x="21" y="2042">39</text><text x="21" y="2094">40</text><text x="21" y="2146">41</text><text x="21" y="2198">42</text><text x="21" y="2250">43</text><text x="21" y="2302">44</text><text x="21" y="2354">45</text><text x="21" y="2406">46</text><text x="21" y="2458">47</text><text x="21" y="2510">48</text><text x="21" y="2562">49</text><text x="21" y="2614">50</text><text x="21" y="2666">51</text><text x="21" y="2718">52</text><text x="21" y="2770">53</text><text x="21" y="2822">54</text><text x="21" y="2874">55</text><text x="21" y="2926">56</text><text x="21" y="2978">57</text><text x="21" y="3030">58</text><text x="21" y="3082">59</text><text x="21" y="3134">60</text><text x="21" y="3186">61</text><text x="21" y="3238">62</text><text x="21" y="3290">63</text><text x="21" y="3342">64</text><text x="21" y="3394">65</text><text x="21" y="3446">66</text><text x="21" y="3498">67</text><text x="21" y="3550">68</text><text x="21" y="3602">69</text><text x="21" y="3654">70</text><text x="21" y="3706">71</text><text x="21" y="3758">72</text><text x="21" y="3810">73</text><text x="21" y="3862">74</text><text x="21" y="3914">75</text><text x="21" y="3966">76</text><text x="21" y="4018">77</text>
</g>
<g>
<text x="666" y="66">1</text><text x="666" y="118">2</text><text x="666" y="170">3</text><text x="666" y="222">4</text><text x="666" y="274">5</text><text x="666" y="326">6</text><text x="666" y="378">7</text><text x="666" y="430">8</text><text x="666" y="482">9</text><text x="666" y="534">10</text><text x="666" y="586">11</text><text x="666" y="638">12</text><text x="666" y="690">13</text><text x="666" y="742">14</text><text x="666" y="794">15</text><text x="666" y="846">16</text><text x="666" y="898">17</text><text x="666" y="950">18</text><text x="666" y="1002">19</text><text x="666" y="1054">20</text><text x="666" y="1106">21</text><text x="666" y="1158">22</text><text x="666" y="1210">23</text><text x="666" y="1262">24</text><text x="666" y="1314">25</text><text x="666" y="1366">26</text><text x="666" y="1418">27</text><text x="666" y="1470">28</text><text x="666" y="1522">29</text><text x="666" y="1574">30</text><text x="666" y="1626">31</text><text x="666" y="1678">32</text><text x="666" y="1730">33</text><text x="666" y="1782">34</text><text x="666" y="1834">35</text><text x="666" y="1886">36</text><text x="666" y="1938">37</text><text x="666" y="1990">38</text><text x="666" y="2042">39</text><text x="666" y="2094">40</text><text x="666" y="2146">41</text><text x="666" y="2198">42</text><text x="666" y="2250">43</text><text x="666" y="2302">44</text><text x="666" y="2354">45</text><text x="666" y="2406">46</text><text x="666" y="2458">47</text><text x="666" y="2510">48</text><text x="666" y="2562">49</text><text x="666" y="2614">50</text><text x="666" y="2666">51</text><text x="666" y="2718">52</text><text x="666" y="2770">53</text><text x="666" y="2822">54</text><text x="666" y="2874">55</text><text x="666" y="2926">56</text><text x="666" y="2978">57</text><text x="666" y="3030">58</text><text x="666" y="3082">59</text><text x="666" y="3134">60</text><text x="666" y="3186">61</text><text x="666" y="3238">62</text><text x="666" y="3290">63</text><text x="666" y="3342">64</text><text x="666" y="3394">65</text><text x="666" y="3446">66</text><text x="666" y="3498">67</text><text x="666" y="3550">68</text><text x="666" y="3602">69</text><text x="666" y="3654">70</text><text x="666" y="3706">71</text><text x="666" y="3758">72</text><text x="666" y="3810">73</text><text x="666" y="3862">74</text><text x="666" y="3914">75</text><text x="666" y="3966">76</text><text x="666" y="4018">77</text>
</g>
</g>
<text class="wm" x="344" y="2068" text-anchor="middle">BRACELETBOOK.COM</text>
</svg>
